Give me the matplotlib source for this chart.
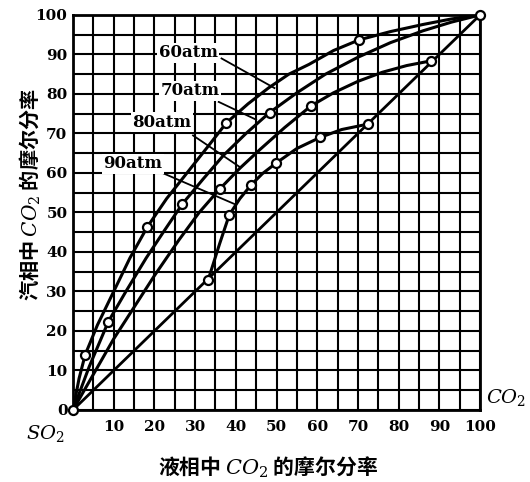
import matplotlib.pyplot as plt
import numpy as np

# curves (liquid CO2 %, vapour CO2 %)
x60 = [0, 1.5, 3, 6, 10, 14, 18.3, 23, 28, 33, 37.7, 43, 48, 53, 58, 64, 70.3, 78, 86, 93, 100]
y60 = [0, 8, 14, 21.5, 30, 38.5, 46.4, 53.5, 60, 66.5, 72.7, 77.5, 81.5, 85, 87.5, 91, 93.7, 95.8, 97.6, 99, 100]
x70 = [0, 4, 8.7, 13, 18, 22.5, 26.9, 32, 37, 42.5, 48.3, 55, 62, 70, 78, 86, 93, 100]
y70 = [0, 11, 22.4, 30, 38.5, 45.5, 52.2, 58.5, 64.5, 70, 75.3, 80.3, 85, 89.3, 93, 96, 98.2, 100]
x80 = [0, 5, 10, 15, 20, 26, 31, 36, 41, 46, 52, 58.5, 64, 70, 76, 82, 88]
y80 = [0, 9, 18, 26, 34, 43, 50, 55.9, 61.2, 66, 71.5, 77, 80.3, 83.2, 85.5, 87.2, 88.4]
x90 = [33.2, 36, 38.4, 41, 43.7, 46.5, 49.9, 55, 60.7, 66, 72.6]
y90 = [32.9, 42, 49.4, 53.5, 56.9, 59.8, 62.5, 66.2, 69, 71, 72.4]

# measured points (open circles)
px = [0, 3, 18.3, 37.7, 70.3, 8.7, 26.9, 48.3, 36, 58.5, 88,
      33.2, 38.4, 43.7, 49.9, 60.7, 72.6, 100]
py = [0, 14, 46.4, 72.7, 93.7, 22.4, 52.2, 75.3, 55.9, 77, 88.4,
      32.9, 49.4, 56.9, 62.5, 69, 72.4, 100]

labels = ['60atm', '70atm', '80atm', '90atm']
label_xy = [(28.3, 90.4), (28.7, 80.8), (21.9, 72.9), (14.7, 62.3)]
leaders = [((36.5, 89), (49.5, 81.5)), ((35.8, 78), (45, 73.5)),
           ((29.5, 69.5), (41, 61.5)), ((22, 60), (40, 52))]

plt.rcParams['font.family'] = ['DejaVu Serif', 'Noto Sans CJK SC']
plt.rcParams['mathtext.fontset'] = 'dejavuserif'

fig = plt.figure(figsize=(5.3, 4.82), dpi=100)
ax = fig.add_axes([0.1377, 0.1494, 0.768, 0.8195])

ax.set_xlim(0, 100)
ax.set_ylim(0, 100)
ax.set_xticks(range(10, 101, 10))
ax.set_yticks(range(0, 101, 10))
ax.set_xticks(range(0, 101, 5), minor=True)
ax.set_yticks(range(0, 101, 5), minor=True)
ax.grid(True, which='both', color='black', lw=1.5, zorder=0)
ax.set_axisbelow(True)
ax.tick_params(which='both', length=0, labelsize=11)
ax.tick_params(axis='x', pad=7)
ax.tick_params(axis='y', pad=4)
for t in ax.get_xticklabels() + ax.get_yticklabels():
    t.set_fontweight('bold')
for s in ax.spines.values():
    s.set_linewidth(2)

ax.plot([0, 100], [0, 100], color='black', lw=2, zorder=2)
for xs, ys in [(x60, y60), (x70, y70), (x80, y80), (x90, y90)]:
    ax.plot(xs, ys, color='black', lw=2.2, zorder=2)
ax.plot(px, py, 'o', ms=6.5, mfc='white', mec='black', mew=1.6, zorder=4, clip_on=False)

for lab, (tx, ty), ((x1, y1), (x2, y2)) in zip(labels, label_xy, leaders):
    ax.plot([x1, x2], [y1, y2], color='black', lw=1.3, zorder=3)
    ax.text(tx, ty, lab, ha='center', va='center', fontsize=12, fontweight='bold',
            bbox=dict(fc='white', ec='none', pad=1), zorder=5)

cjk = ['Noto Sans CJK SC', 'DejaVu Serif']
fig.text(268/530, 1-467/482, r'液相中 $CO_2$ 的摩尔分率', ha='center', va='center',
         fontsize=15, fontweight='bold', family=cjk)
fig.text(30/530, 1-195/482, r'汽相中 $CO_2$ 的摩尔分率', ha='center', va='center',
         rotation=90, fontsize=14.5, fontweight='bold', family=cjk)
fig.text(486/530, 1-398/482, r'$CO_2$', ha='left', va='center', fontsize=14)
fig.text(45/530, 1-433/482, r'$SO_2$', ha='center', va='center', fontsize=14)

fig.savefig('out.png', dpi=100)
